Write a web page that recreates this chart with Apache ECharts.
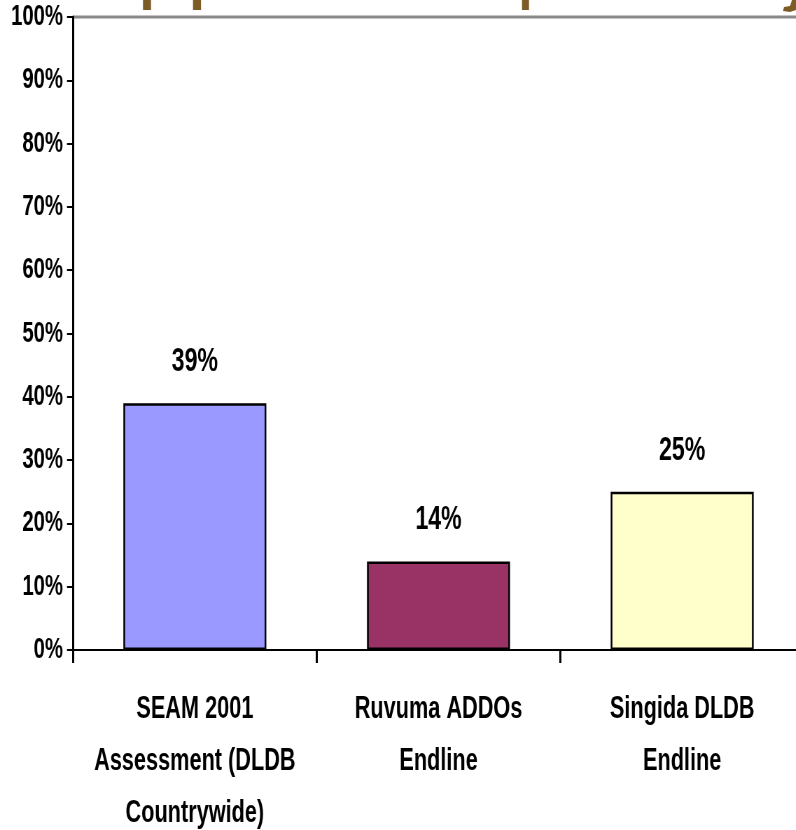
<!DOCTYPE html>
<html>
<head>
<meta charset="utf-8">
<title>Bar chart</title>
<script src="https://cdn.jsdelivr.net/npm/echarts@6/dist/echarts.min.js"></script>
<style>
  html, body { margin: 0; padding: 0; background: #ffffff; overflow: hidden; }
  #frame { width: 796px; height: 830px; overflow: hidden; position: relative; }
  /* the chart is laid out wide and squeezed horizontally so its lettering reads condensed */
  #chart { width: 1138px; height: 830px; transform: scaleX(0.7); transform-origin: 0 0; }
</style>
</head>
<body>
<div id="frame"><div id="chart"></div></div>
<script>
// Survey sources on the category axis
const categories = [
  'SEAM 2001\nAssessment (DLDB\nCountrywide)',
  'Ruvuma ADDOs\nEndline',
  'Singida DLDB\nEndline'
];
// Share for each source, in percent
const values = [39, 14, 25];
// Fill colour of each bar
const barColors = ['#9999FF', '#993366', '#FFFFCC'];
// Value axis range and step, in percent
const yMin = 0;
const yMax = 100;
const yStep = 10;

// horizontal squeeze applied to the chart element (see the CSS)
const SX = 0.7;
const px = v => v / SX;   // on-screen horizontal pixels -> chart pixels

const FONT = '"Liberation Sans", Arial, Helvetica, sans-serif';
const BROWN = '#7d5b26';

const chart = echarts.init(document.getElementById('chart'), null, { renderer: 'canvas' });

chart.setOption({
  animation: false,
  backgroundColor: '#ffffff',
  grid: {
    left: px(73), top: 17, width: px(731), bottom: 180,
    containLabel: false,
    outerBoundsMode: 'none'
  },
  xAxis: {
    type: 'category',
    data: categories,
    axisLine: { show: true, lineStyle: { color: '#000000', width: 2 } },
    axisTick: { show: true, length: 13, lineStyle: { color: '#000000', width: 3 } },
    axisLabel: {
      margin: 33,
      color: '#000000',
      fontFamily: FONT,
      fontWeight: 'bold',
      fontSize: 31,
      lineHeight: 52,
      interval: 0
    },
    splitLine: { show: false }
  },
  yAxis: {
    type: 'value',
    min: yMin,
    max: yMax,
    interval: yStep,
    axisLine: { show: true, lineStyle: { color: '#000000', width: 3 } },
    axisTick: { show: true, length: px(6), lineStyle: { color: '#000000', width: 2 } },
    axisLabel: {
      margin: px(10),
      color: '#000000',
      fontFamily: FONT,
      fontWeight: 'bold',
      fontSize: 29,
      padding: [12, 0, 0, 0],
      formatter: '{value}%'
    },
    splitLine: { show: false }
  },
  series: [{
    type: 'bar',
    barWidth: px(143),
    data: values.map((v, i) => ({
      value: v,
      itemStyle: { color: barColors[i], borderColor: '#000000', borderWidth: 2.5 }
    })),
    label: {
      show: true,
      position: 'top',
      distance: 26,
      color: '#000000',
      fontFamily: FONT,
      fontWeight: 'bold',
      fontSize: 33,
      lineHeight: 30,
      formatter: '{c}%'
    }
  }],
  graphic: [
    // grey rule running along the top of the plot
    {
      type: 'line',
      shape: { x1: px(73), y1: 17, x2: px(796), y2: 17 },
      style: { stroke: '#8a8a8a', lineWidth: 3 },
      z: 0
    },
    // descender tails of the heading lettering above the rule
    { type: 'rect', shape: { x: px(143), y: 0, width: px(8), height: 10 }, style: { fill: BROWN } },
    { type: 'rect', shape: { x: px(193), y: 0, width: px(8), height: 10 }, style: { fill: BROWN } },
    { type: 'rect', shape: { x: px(522), y: 0, width: px(7), height: 10 }, style: { fill: BROWN } },
    {
      type: 'polygon',
      shape: {
        points: [[796, 0], [796, 10], [790, 12], [783, 11], [784, 7], [790, 6], [792, 0]]
          .map(p => [px(p[0]), p[1]])
      },
      style: { fill: BROWN }
    }
  ]
});
</script>
</body>
</html>
